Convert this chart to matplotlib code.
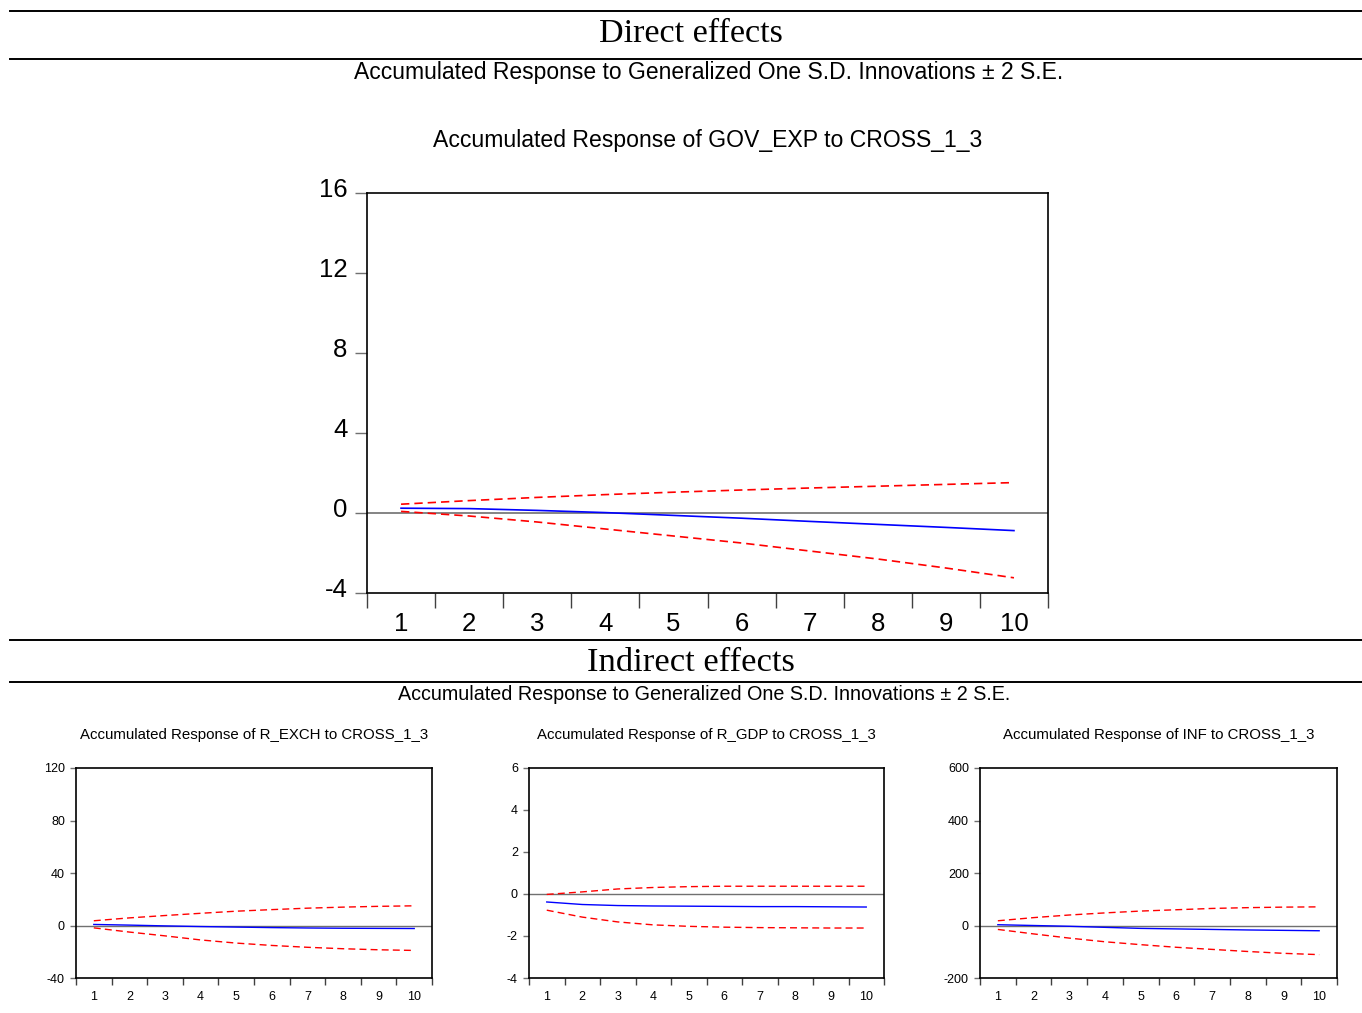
import matplotlib
matplotlib.use("Agg")
import matplotlib.pyplot as plt
from matplotlib.lines import Line2D
from matplotlib.ticker import FixedLocator
from matplotlib.transforms import ScaledTranslation

W, H = 1362, 1013

plt.rcParams.update({
    "font.family": "Liberation Sans",
    "axes.linewidth": 1.2,
})

horizons = [1, 2, 3, 4, 5, 6, 7, 8, 9, 10]

# direct effect: GOV_EXP
gov_resp = [0.24, 0.22, 0.13, 0.02, -0.12, -0.26, -0.42, -0.57, -0.72, -0.88]
gov_upper = [0.44, 0.62, 0.78, 0.92, 1.04, 1.15, 1.25, 1.34, 1.43, 1.52]
gov_lower = [0.08, -0.15, -0.45, -0.80, -1.15, -1.50, -1.90, -2.30, -2.75, -3.24]

# indirect effects
exch_resp = [0.8, 0.3, -0.3, -0.8, -1.2, -1.6, -1.9, -2.1, -2.2, -2.3]
exch_upper = [3.6, 5.8, 7.6, 9.3, 10.9, 12.1, 13.2, 14.0, 14.6, 15.0]
exch_lower = [-1.8, -5.0, -7.9, -11.0, -13.4, -15.2, -16.6, -17.7, -18.5, -19.0]

gdp_resp = [-0.38, -0.50, -0.55, -0.57, -0.58, -0.59, -0.60, -0.60, -0.61, -0.62]
gdp_upper = [-0.02, 0.10, 0.24, 0.31, 0.35, 0.37, 0.37, 0.37, 0.37, 0.37]
gdp_lower = [-0.77, -1.10, -1.33, -1.47, -1.54, -1.58, -1.60, -1.61, -1.62, -1.62]

inf_resp = [3, 0, -3, -7, -11, -13, -15, -17, -18.5, -20]
inf_upper = [18, 30, 40, 48, 55, 60, 65, 68, 70, 71]
inf_lower = [-15, -32, -48, -62, -73, -83, -91, -99, -106, -111]

SUBTITLE = "Accumulated Response to Generalized One S.D. Innovations \u00b1 2 S.E."


def rect(l, t, r, b):
    return [l / W, 1 - b / H, (r - l) / W, (b - t) / H]


def irf_panel(ax, resp, upper, lower, yticks, title, fs, tfs, xtick_len, ytick_len,
              xpad, ypad, ylabel_va, ylabel_dy, lw, title_pad):
    ax.axhline(0, color="#707070", lw=lw, zorder=1)
    ax.plot(horizons, upper, color="red", lw=lw, ls=(0, (5, 3)), zorder=2)
    ax.plot(horizons, lower, color="red", lw=lw, ls=(0, (5, 3)), zorder=2)
    ax.plot(horizons, resp, color="blue", lw=lw, zorder=3)
    ax.set_xlim(0.5, 10.5)
    ax.set_ylim(yticks[0], yticks[-1])
    ax.set_yticks(yticks)
    ax.set_yticklabels([str(v) for v in yticks])
    ax.set_xticks(horizons)
    ax.set_xticklabels([str(h) for h in horizons])
    ax.xaxis.set_minor_locator(FixedLocator([h - 0.5 for h in horizons] + [10.5]))
    ax.tick_params(axis="x", which="major", length=0, pad=xpad, labelsize=fs)
    ax.tick_params(axis="x", which="minor", length=xtick_len, width=1.0,
                   color="#404040", direction="out")
    ax.tick_params(axis="y", which="major", length=ytick_len, width=1.0,
                   color="#707070", pad=ypad, labelsize=fs)
    shift = ScaledTranslation(0, -ylabel_dy / 100, ax.figure.dpi_scale_trans)
    for t in ax.get_yticklabels():
        t.set_va(ylabel_va)
        t.set_transform(t.get_transform() + shift)
    ax.set_title(title, fontsize=tfs, pad=title_pad)
    for s in ax.spines.values():
        s.set_color("black")


fig = plt.figure(figsize=(W / 100, H / 100), dpi=100)

for y in [11, 59, 640, 682]:
    fig.add_artist(Line2D([10 / W, 1.0], [1 - y / H, 1 - y / H], color="black", lw=1.4))

fig.text(691 / W, 1 - 34 / H, "Direct effects", family="Liberation Serif",
         fontsize=24.6, ha="center", va="center")
fig.text(709 / W, 1 - 73 / H, SUBTITLE, fontsize=16.5, ha="center", va="center")
fig.text(691 / W, 1 - 663 / H, "Indirect effects", family="Liberation Serif",
         fontsize=24.8, ha="center", va="center")
fig.text(704 / W, 1 - 695 / H, SUBTITLE, fontsize=14.2, ha="center", va="center")

ax = fig.add_axes(rect(367, 193, 1048, 593))
irf_panel(ax, gov_resp, gov_upper, gov_lower, [-4, 0, 4, 8, 12, 16],
          "Accumulated Response of GOV_EXP to CROSS_1_3", 18.5, 16.6, 11, 9, 14, 5,
          "baseline", 4, 1.2, 33)

small = [
    (76, 432, exch_resp, exch_upper, exch_lower, [-40, 0, 40, 80, 120],
     "Accumulated Response of R_EXCH to CROSS_1_3"),
    (529, 884, gdp_resp, gdp_upper, gdp_lower, [-4, -2, 0, 2, 4, 6],
     "Accumulated Response of R_GDP to CROSS_1_3"),
    (980, 1337, inf_resp, inf_upper, inf_lower, [-200, 0, 200, 400, 600],
     "Accumulated Response of INF to CROSS_1_3"),
]
for l, r, resp, up, lo, yt, title in small:
    a = fig.add_axes(rect(l, 768, r, 978))
    irf_panel(a, resp, up, lo, yt, title, 9, 10.8, 5, 4, 9, 4, "center", 1.5, 1.0, 21)

fig.savefig("out.png", dpi=100)
